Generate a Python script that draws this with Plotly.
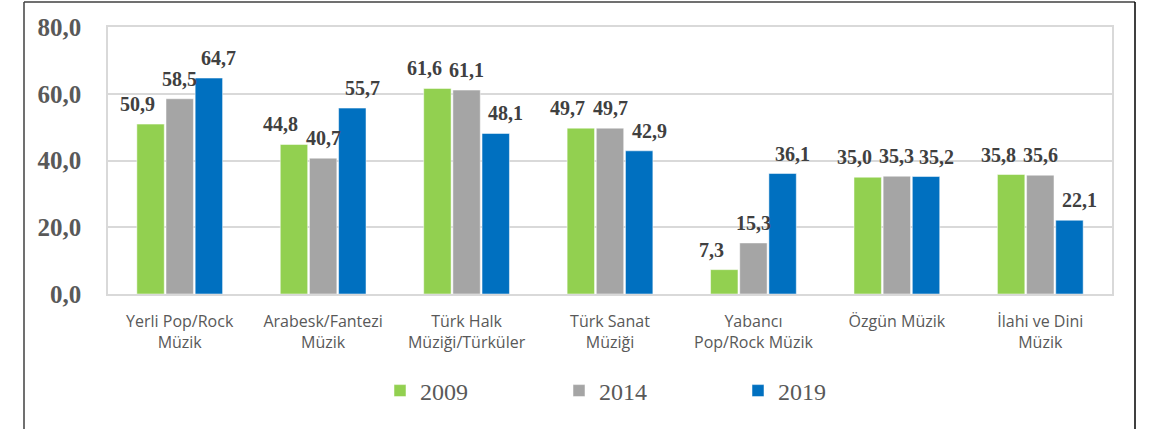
import plotly.graph_objects as go

categories = ["Yerli Pop/Rock<br>Müzik", "Arabesk/Fantezi<br>Müzik", "Türk Halk<br>Müziği/Türküler",
              "Türk Sanat<br>Müziği", "Yabancı<br>Pop/Rock Müzik", "Özgün Müzik", "İlahi ve Dini<br>Müzik"]
years = ["2009", "2014", "2019"]
v2009 = [50.9, 44.8, 61.6, 49.7, 7.3, 35.0, 35.8]
v2014 = [58.5, 40.7, 61.1, 49.7, 15.3, 35.3, 35.6]
v2019 = [64.7, 55.7, 48.1, 42.9, 36.1, 35.2, 22.1]
y_ticks = [0, 20, 40, 60, 80]
y_ticktext = ["0,0", "20,0", "40,0", "60,0", "80,0"]

series = [v2009, v2014, v2019]
colors = ["#92d050", "#a5a5a5", "#0070c0"]
label_xshift = [-13, 0, 10]

W, H = 1166, 429
L, R, T, B = 108, 54, 27, 135
bargap = 0.39
groupw = 1 - bargap

def fmt(v):
    return f"{v:.1f}".replace(".", ",")

xs = list(range(len(categories)))
fig = go.Figure()
for k, (name, vals, col) in enumerate(zip(years, series, colors)):
    fig.add_trace(go.Bar(
        x=xs, y=vals, name=name,
        marker=dict(color=col, line=dict(color="white", width=0.5)),
        hoverinfo="skip",
    ))
    for i, v in enumerate(vals):
        fig.add_annotation(
            x=i + (k - 1) * groupw / 3, y=v, xref="x", yref="y",
            text="<b>" + fmt(v) + "</b>", showarrow=False,
            yanchor="bottom", xanchor="center", yshift=7, xshift=label_xshift[k],
            font=dict(family="Liberation Serif", size=20, color="#404040"),
        )

pw = W - L - R
ph = H - T - B
def px_x(p):
    return (p - L) / pw
def px_y(p):
    return (H - B - p) / ph

frame_col = "#404040"
fig.add_shape(type="line", xref="paper", yref="paper", x0=px_x(24), x1=px_x(24), y0=px_y(429), y1=px_y(2),
              line=dict(color=frame_col, width=1.5))
fig.add_shape(type="line", xref="paper", yref="paper", x0=px_x(24), x1=px_x(1135), y0=px_y(2), y1=px_y(2),
              line=dict(color=frame_col, width=1.5))
fig.add_shape(type="line", xref="paper", yref="paper", x0=px_x(1135), x1=px_x(1135), y0=px_y(2), y1=px_y(429),
              line=dict(color="#000000", width=1.5))

fig.update_layout(
    width=W, height=H,
    margin=dict(l=L, r=R, t=T, b=B, autoexpand=False),
    paper_bgcolor="white", plot_bgcolor="white",
    barmode="group", bargap=bargap, bargroupgap=0.06,
    showlegend=True,
    legend=dict(orientation="h", x=px_x(380), xanchor="left", y=px_y(391), yanchor="middle",
                font=dict(family="Liberation Serif", size=24, color="#595959"),
                entrywidth=134, itemwidth=30, traceorder="normal", bgcolor="rgba(0,0,0,0)"),
    xaxis=dict(range=[-0.5, len(categories) - 0.5], tickvals=xs, ticktext=categories,
               tickfont=dict(family="Open Sans", size=16, color="#595959"),
               showgrid=False, showline=True, linecolor="#d9d9d9", linewidth=2, mirror=True,
               ticks="", ticklabelstandoff=12, zeroline=False, fixedrange=True, automargin=False),
    yaxis=dict(range=[0, 80], tickvals=y_ticks, ticktext=y_ticktext,
               tickfont=dict(family="Liberation Serif", size=25, color="#595959", weight="bold"),
               showgrid=True, gridcolor="#d9d9d9", gridwidth=1.5,
               showline=True, linecolor="#d9d9d9", linewidth=1.5, mirror=True,
               ticks="", ticklabelstandoff=20, zeroline=False, fixedrange=True, automargin=False),
)

fig.write_html("out.html", config={"displayModeBar": False},
               post_script="document.body.style.margin='0';document.body.style.overflow='hidden';")
